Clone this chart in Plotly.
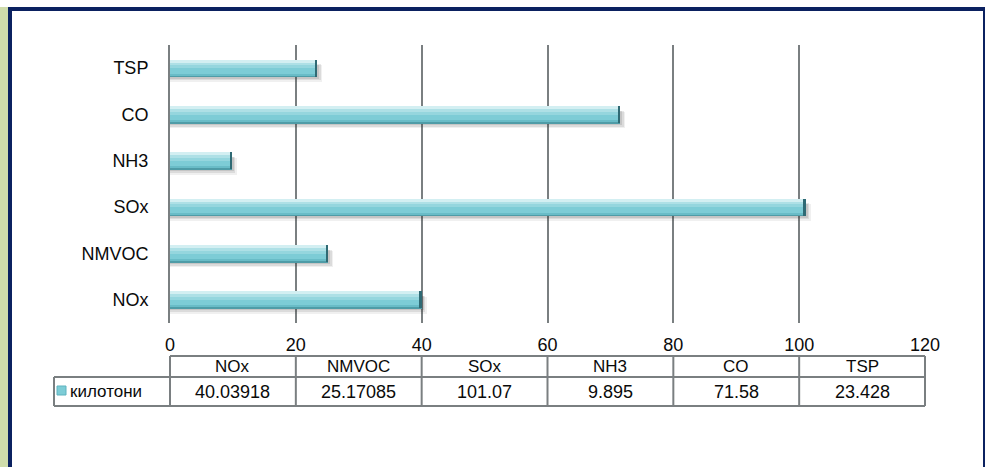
import plotly.graph_objects as go

# Emissions by pollutant, kilotonnes
pollutants = ["NOx", "NMVOC", "SOx", "NH3", "CO", "TSP"]
kilotonnes = [40.03918, 25.17085, 101.07, 9.895, 71.58, 23.428]
value_labels = ["40.03918", "25.17085", "101.07", "9.895", "71.58", "23.428"]
series_name = "килотони"
x_ticks = [0, 20, 40, 60, 80, 100, 120]

W, H = 985, 467
L, R, T, B = 170, 60, 45, 144
PW, PH = W - L - R, H - T - B
XMAX = 120

FONT = "Liberation Sans, Arial, sans-serif"
GRID = "#7a7f81"
NAVY = "#0b2160"
TXT = "#0a0a0a"


def px(xp):
    return (xp - L) / PW


def py(yp):
    return (H - B - yp) / PH


def xv(v):
    return v / XMAX


fig = go.Figure()

# soft drop shadow under each bar
for dx, off, w, a in [(0.8, -0.30, 0.36, 0.07), (0.5, -0.26, 0.34, 0.10), (0.3, -0.225, 0.3, 0.12)]:
    fig.add_trace(go.Bar(y=pollutants, x=[v + dx for v in kilotonnes], orientation="h",
                         width=w, offset=off, marker=dict(color=f"rgba(40,40,40,{a})", line_width=0),
                         hoverinfo="skip", showlegend=False))

# bar body with bevel bands, bottom to top
layers = [
    (-0.185, 0.37, "#7dccd6"),
    (-0.185, 0.035, "#4f9ca7"),
    (-0.15, 0.03, "#69bcc7"),
    (0.0, 0.06, "#95d6de"),
    (0.06, 0.06, "#aee0e6"),
    (0.12, 0.065, "#d3eff2"),
]
for off, w, col in layers:
    fig.add_trace(go.Bar(y=pollutants, x=kilotonnes, orientation="h", width=w, offset=off,
                         marker=dict(color=col, line_width=0), hoverinfo="skip", showlegend=False))

# dark end cap
fig.add_trace(go.Bar(y=pollutants, x=[0.4] * len(kilotonnes), base=[v - 0.4 for v in kilotonnes],
                     orientation="h", width=0.37, offset=-0.185,
                     marker=dict(color="#2f6a74", line_width=0), hoverinfo="skip", showlegend=False))

shapes = []
# outer frame
shapes.append(dict(type="rect", xref="paper", yref="paper", x0=px(0), x1=px(8), y0=py(7), y1=py(H),
                   fillcolor="#cfdcab", line_width=0, layer="below"))
shapes.append(dict(type="rect", xref="paper", yref="paper", x0=px(8), x1=px(12), y0=py(7), y1=py(H),
                   fillcolor=NAVY, line_width=0))
shapes.append(dict(type="rect", xref="paper", yref="paper", x0=px(8), x1=px(W), y0=py(7), y1=py(11),
                   fillcolor=NAVY, line_width=0))
shapes.append(dict(type="rect", xref="paper", yref="paper", x0=px(983), x1=px(W), y0=py(7), y1=py(H),
                   fillcolor=NAVY, line_width=0))

# data table under the axis
tbl_top, tbl_mid, tbl_bot = py(356), py(377), py(406)
tline = dict(color=GRID, width=2)
shapes.append(dict(type="line", xref="paper", yref="paper", x0=xv(0), x1=xv(XMAX), y0=tbl_top, y1=tbl_top, line=tline))
shapes.append(dict(type="line", xref="paper", yref="paper", x0=px(54), x1=xv(XMAX), y0=tbl_mid, y1=tbl_mid, line=tline))
shapes.append(dict(type="line", xref="paper", yref="paper", x0=px(54), x1=xv(XMAX), y0=tbl_bot, y1=tbl_bot, line=tline))
shapes.append(dict(type="line", xref="paper", yref="paper", x0=px(54), x1=px(54), y0=tbl_mid, y1=tbl_bot, line=tline))
for i in range(len(pollutants) + 1):
    xx = xv(i * 20)
    shapes.append(dict(type="line", xref="paper", yref="paper", x0=xx, x1=xx, y0=tbl_top, y1=tbl_bot, line=tline))

# legend key swatch
shapes.append(dict(type="rect", xref="paper", yref="paper", x0=px(57), x1=px(66), y0=py(395), y1=py(386),
                   fillcolor="#7dccd6", line=dict(color="#5fb3bf", width=1)))

annotations = []
for i, (name, lab) in enumerate(zip(pollutants, value_labels)):
    cx = xv(i * 20 + 10)
    annotations.append(dict(x=cx, y=(tbl_top + tbl_mid) / 2, xref="paper", yref="paper", text=name,
                            xanchor="center", yanchor="middle", showarrow=False,
                            font=dict(family=FONT, size=17, color=TXT)))
    annotations.append(dict(x=cx, y=(tbl_mid + tbl_bot) / 2, xref="paper", yref="paper", text=lab,
                            xanchor="center", yanchor="middle", showarrow=False,
                            font=dict(family=FONT, size=18, color=TXT)))
annotations.append(dict(x=px(68), y=(tbl_mid + tbl_bot) / 2, xref="paper", yref="paper", text=series_name,
                        xanchor="left", yanchor="middle", showarrow=False,
                        font=dict(family=FONT, size=17, color=TXT)))

fig.update_layout(
    width=W, height=H,
    margin=dict(l=L, r=R, t=T, b=B, pad=0),
    paper_bgcolor="white", plot_bgcolor="white",
    barmode="overlay", bargap=0,
    shapes=shapes, annotations=annotations,
    showlegend=False,
    xaxis=dict(range=[0, XMAX], tickvals=x_ticks, showgrid=True, gridcolor=GRID, gridwidth=2,
               zeroline=False, showline=False, ticks="outside", ticklen=5, tickcolor="rgba(0,0,0,0)",
               tickfont=dict(family=FONT, size=18, color=TXT)),
    yaxis=dict(type="category", categoryorder="array", categoryarray=pollutants,
               range=[-0.5, len(pollutants) - 0.5], showgrid=False, zeroline=False,
               showline=True, linecolor=GRID, linewidth=2, ticks="", ticklabelstandoff=16,
               tickfont=dict(family=FONT, size=18, color=TXT)),
)

fig.write_html("out.html")
